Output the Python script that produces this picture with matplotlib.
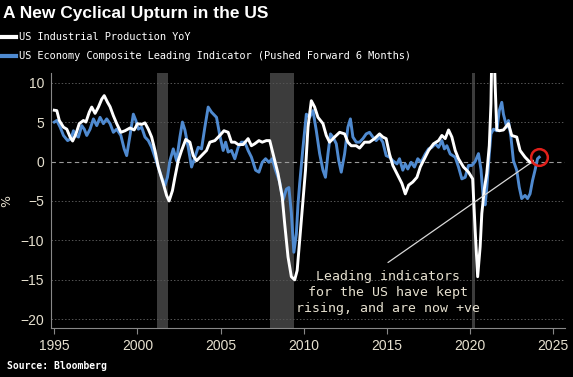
import matplotlib
matplotlib.use('Agg')
from matplotlib import pyplot as plt
from matplotlib.lines import Line2D

# US industrial production YoY (%), decimal years
ip_x = [1995.0, 1995.15, 1995.3, 1995.55, 1995.75, 1995.95, 1996.1, 1996.3, 1996.5, 1996.75,
        1996.9, 1997.1, 1997.25, 1997.45, 1997.65, 1997.85, 1998.0, 1998.2, 1998.35, 1998.55,
        1998.75, 1999.0, 1999.25, 1999.55, 1999.8, 2000.0, 2000.25, 2000.45, 2000.65, 2000.85,
        2001.05, 2001.25, 2001.55, 2001.75, 2001.9, 2002.1, 2002.25, 2002.45, 2002.65, 2002.9,
        2003.15, 2003.35, 2003.55, 2003.85, 2004.15, 2004.35, 2004.65, 2004.95, 2005.2, 2005.45,
        2005.65, 2005.85, 2006.05, 2006.35, 2006.65, 2006.85, 2007.05, 2007.3, 2007.5, 2007.75,
        2007.95, 2008.15, 2008.45, 2008.7, 2008.85, 2009.05, 2009.25, 2009.45, 2009.6, 2009.75,
        2009.9, 2010.0, 2010.1, 2010.25, 2010.45, 2010.65, 2010.85, 2011.15, 2011.35, 2011.55,
        2011.85, 2012.15, 2012.45, 2012.65, 2012.85, 2013.15, 2013.35, 2013.65, 2013.95, 2014.25,
        2014.55, 2014.75, 2014.95, 2015.15, 2015.35, 2015.6, 2015.9, 2016.1, 2016.3, 2016.55,
        2016.8, 2017.0, 2017.3, 2017.5, 2017.8, 2018.1, 2018.3, 2018.5, 2018.7, 2018.9,
        2019.1, 2019.3, 2019.6, 2019.9, 2020.15, 2020.3, 2020.45, 2020.6, 2020.7, 2020.85,
        2021.0, 2021.15, 2021.25, 2021.32, 2021.42, 2021.5, 2021.6, 2021.75, 2022.0, 2022.3,
        2022.5, 2022.8, 2023.0, 2023.3, 2023.6, 2023.75]
ip_y = [6.5, 6.45, 5.2, 4.35, 4.1, 3.1, 2.6, 3.5, 4.8, 5.2,
        5.0, 6.25, 6.9, 6.1, 6.9, 7.9, 8.35, 7.5, 6.95, 5.8,
        4.8, 3.7, 3.9, 4.25, 4.0, 4.8, 4.7, 4.9, 4.1, 3.1,
        1.4, -0.7, -2.8, -4.3, -5.0, -3.7, -2.0, 0.1, 1.4, 2.8,
        2.45, 0.75, 0.1, 0.75, 1.4, 2.45, 2.65, 3.3, 3.9, 3.7,
        2.45, 2.45, 2.15, 2.15, 2.9, 2.0, 2.25, 2.65, 2.45, 2.65,
        2.65, 0.95, -1.55, -4.5, -7.9, -12.1, -14.6, -15.0, -13.8, -10.0,
        -6.2, -3.7, -1.1, 4.35, 7.7, 6.9, 5.6, 4.8, 3.3, 2.45,
        3.1, 3.7, 3.5, 2.45, 2.0, 2.0, 1.7, 2.45, 2.45, 2.9,
        3.5, 3.1, 2.9, 0.95, -0.5, -1.55, -2.8, -4.1, -3.0, -2.6,
        -2.0, -0.7, 0.55, 1.4, 2.25, 2.65, 3.3, 2.9, 4.0, 3.1,
        1.4, 0.35, -0.7, -1.35, -2.2, -8.7, -14.6, -10.8, -6.6, -3.5,
        -1.5, 2.0, 7.3, 16.5, 16.0, 9.8, 4.0, 3.9, 4.0, 4.8,
        3.3, 3.1, 1.4, 0.55, -0.1, 0.0]

# US composite leading indicator, pushed forward 6 months
lei_x = [1995.0, 1995.15, 1995.35, 1995.55, 1995.8, 1996.0, 1996.15, 1996.3, 1996.45, 1996.65,
         1996.8, 1996.95, 1997.15, 1997.35, 1997.55, 1997.75, 1997.95, 1998.15, 1998.35, 1998.55,
         1998.75, 1999.0, 1999.2, 1999.35, 1999.55, 1999.75, 1999.9, 2000.05, 2000.25, 2000.45,
         2000.65, 2000.85, 2001.05, 2001.25, 2001.45, 2001.65, 2001.8, 2001.95, 2002.15, 2002.35,
         2002.55, 2002.7, 2002.85, 2003.05, 2003.25, 2003.45, 2003.65, 2003.85, 2004.05, 2004.25,
         2004.45, 2004.75, 2004.95, 2005.15, 2005.3, 2005.45, 2005.65, 2005.85, 2006.05, 2006.25,
         2006.45, 2006.65, 2006.85, 2007.1, 2007.3, 2007.5, 2007.7, 2007.9, 2008.1, 2008.3,
         2008.55, 2008.75, 2008.95, 2009.1, 2009.25, 2009.4, 2009.55, 2009.65, 2009.75, 2009.95,
         2010.15, 2010.35, 2010.55, 2010.75, 2010.95, 2011.15, 2011.3, 2011.45, 2011.6, 2011.75,
         2011.95, 2012.1, 2012.25, 2012.45, 2012.65, 2012.8, 2012.95, 2013.15, 2013.35, 2013.55,
         2013.75, 2013.95, 2014.15, 2014.35, 2014.55, 2014.75, 2014.95, 2015.15, 2015.35, 2015.6,
         2015.75, 2015.95, 2016.1, 2016.25, 2016.45, 2016.65, 2016.85, 2017.05, 2017.3, 2017.5,
         2017.7, 2017.9, 2018.1, 2018.3, 2018.45, 2018.6, 2018.8, 2019.1, 2019.3, 2019.5,
         2019.7, 2019.9, 2020.1, 2020.3, 2020.5, 2020.65, 2020.8, 2020.9, 2021.0, 2021.15,
         2021.25, 2021.4, 2021.6, 2021.75, 2021.9, 2022.0, 2022.2, 2022.3, 2022.45, 2022.6,
         2022.8, 2022.95, 2023.1, 2023.3, 2023.45, 2023.6, 2023.75, 2023.9, 2024.05, 2024.15]
lei_y = [5.0, 5.2, 4.35, 3.3, 2.65, 2.9, 3.9, 3.3, 3.1, 4.55,
         4.1, 3.3, 4.1, 5.4, 4.55, 5.6, 4.8, 5.4, 4.8, 3.7,
         4.1, 3.3, 1.6, 0.75, 3.3, 6.0, 5.2, 4.1, 4.35, 3.1,
         2.65, 1.8, 0.55, -0.7, -2.0, -3.0, -2.0, 0.1, 1.6, 0.1,
         3.1, 5.0, 4.0, 1.8, -0.7, 0.55, 1.8, 1.6, 4.35, 6.9,
         6.25, 5.6, 3.3, 1.4, 2.45, 1.2, 1.4, 0.35, 1.8, 2.45,
         2.45, 1.4, 0.55, -1.1, -1.35, -0.1, 0.35, -0.1, 0.35, -1.1,
         -2.6, -4.9, -3.5, -3.3, -6.5, -11.5, -9.2, -5.4, -2.8, 1.8,
         6.0, 5.6, 6.45, 3.9, 1.0, -1.1, -2.0, 0.95, 3.5, 3.1,
         2.25, 0.1, -1.35, 0.95, 4.35, 5.4, 3.1, 2.45, 2.45, 2.9,
         3.5, 3.7, 3.1, 2.65, 3.1, 2.45, 0.75, 0.55, 0.1, -0.3,
         0.35, -1.1, -0.3, -0.95, -0.1, -0.7, 0.35, -0.1, 0.95, 1.6,
         1.8, 2.25, 1.8, 2.65, 1.6, 2.0, 0.95, 0.55, -0.7, -2.2,
         -2.0, -0.5, -0.5, 0.0, 1.0, -1.0, -5.0, -5.5, -3.3, 0.95,
         3.5, 4.1, 3.9, 6.45, 7.5, 6.0, 4.35, 5.2, 3.1, 0.1,
         -1.1, -3.25, -4.7, -4.3, -4.7, -4.1, -2.4, -1.1, 0.35, 0.55]

recessions = [(2001.17, 2001.83), (2007.95, 2009.42), (2020.1, 2020.28)]
y_ticks = [10, 5, 0, -5, -10, -15, -20]
x_ticks = [1995, 2000, 2005, 2010, 2015, 2020, 2025]

bg = 'black'
txt = '#e6e0cf'
blue = '#4f8ad0'

fig = plt.figure(figsize=(5.73, 3.77), dpi=100, facecolor=bg)
ax = fig.add_axes([0.089, 0.130, 0.897, 0.676], facecolor=bg)

for a, b in recessions:
    ax.axvspan(a, b, color='#3c3c3c', lw=0, zorder=0)

for t in y_ticks:
    if t == 0:
        ax.axhline(t, color='#9a9a9a', lw=0.8, ls=(0, (4, 3)), zorder=1)
    else:
        ax.axhline(t, color='#555555', lw=0.7, ls=(0, (1.5, 2)), zorder=1)

ax.plot(lei_x, lei_y, color=blue, lw=2.1, zorder=3, solid_joinstyle='round')
ax.plot(ip_x, ip_y, color='white', lw=2.1, zorder=4, solid_joinstyle='round')

# red circle on latest leading indicator reading
ax.plot(lei_x[-1], lei_y[-1], 'o', ms=12, mfc='none', mec='#e0201b', mew=1.8, zorder=6)

# pointer line from the text to the end of the series
ax.annotate('', xy=(2023.76, 0.0), xytext=(2015.06, -12.8),
            arrowprops=dict(arrowstyle='-', color='#d8d8d8', lw=0.9,
                            shrinkA=0, shrinkB=0), zorder=5)
ax.text(2015.05, -16.6, 'Leading indicators\nfor the US have kept\nrising, and are now +ve',
        ha='center', va='center', color=txt, fontsize=9.5,
        family='DejaVu Sans Mono', linespacing=1.3, zorder=5)

ax.set_xlim(1994.8, 2025.7)
ax.set_ylim(-21.1, 11.2)
ax.set_xticks(x_ticks)
ax.set_yticks(y_ticks)
ax.tick_params(axis='x', colors='#888888', labelcolor=txt, length=4, labelsize=10, pad=4)
ax.tick_params(axis='y', length=0, labelcolor=txt, labelsize=10, pad=5)
ax.set_yticklabels([str(t).replace('-', '\u2212') for t in y_ticks])
for lab in ax.get_xticklabels() + ax.get_yticklabels():
    lab.set_family('Liberation Sans')
for s in ['top', 'right']:
    ax.spines[s].set_visible(False)
for s in ['left', 'bottom']:
    ax.spines[s].set_color('#888888')
    ax.spines[s].set_linewidth(0.8)
ax.set_ylabel('%', color=txt, fontsize=9, labelpad=5)

fig.text(0.006, 0.985, 'A New Cyclical Upturn in the US', color='white',
         fontsize=12.5, fontweight='bold', family='Liberation Sans', va='top', ha='left')

handles = [Line2D([], [], color='white', lw=3),
           Line2D([], [], color=blue, lw=3)]
labels = ['US Industrial Production YoY',
          'US Economy Composite Leading Indicator (Pushed Forward 6 Months)']
leg = fig.legend(handles, labels, loc='upper left', bbox_to_anchor=(-0.003, 0.925),
                 frameon=False, handlelength=1.35, handletextpad=0.3, labelspacing=0.85,
                 prop={'family': 'DejaVu Sans Mono', 'size': 7.4}, borderaxespad=0)
for t in leg.get_texts():
    t.set_color('white')

fig.text(0.012, 0.03, 'Source: Bloomberg', color='white', fontsize=7,
         fontweight='bold', family='DejaVu Sans Mono', va='center', ha='left')

fig.savefig('out.png', dpi=100, facecolor=bg)
